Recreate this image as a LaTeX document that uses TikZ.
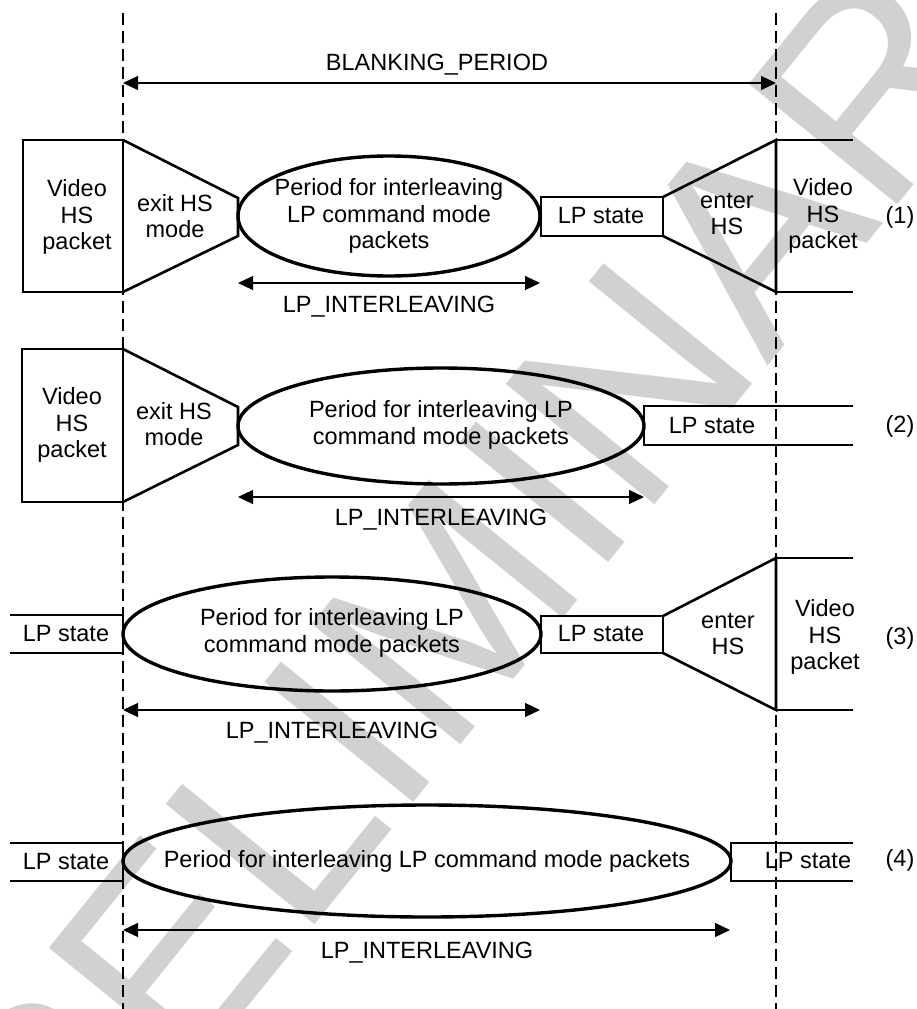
\documentclass[tikz,border=0pt]{standalone}
\usepackage{fontspec}
\setmainfont{Liberation Sans}
\usetikzlibrary{arrows.meta,shapes.geometric}
\begin{document}
\begin{tikzpicture}[x=1pt,y=-1pt,
  lbl/.style={font=\fontsize{23.5}{26.5}\selectfont, align=center, inner sep=0pt},
  boxline/.style={line width=2.6pt, line join=miter},
  period/.style={ellipse, draw, line width=3.4pt, inner sep=0pt},
  dimarrow/.style={line width=1.2pt, {Triangle[length=15pt,width=14pt]}-{Triangle[length=15pt,width=14pt]}},
  guide/.style={line width=2pt, dash pattern=on 11.5pt off 6.5pt},
  wmark/.style={text=black!18, font=\fontsize{278}{278}\selectfont, inner sep=0pt}
]
\useasboundingbox (0,0) rectangle (917,1009);
% watermark
\begin{scope}
\clip (0,0) rectangle (917,1009);
\node[wmark, rotate=51] (wm) at (458,596) {PRELIMINARY};
\end{scope}

% guide lines
\coordinate (gLt) at (123,13); \coordinate (gLb) at (123,1009);
\coordinate (gRt) at (776,13); \coordinate (gRb) at (776,1009);
\draw[guide] (gLt) -- (gLb);
\draw[guide] (gRt) -- (gRb);

% blanking period
\coordinate (bpL) at (123,83); \coordinate (bpR) at (776,83);
\draw[dimarrow] (bpL) -- (bpR);
\node[lbl] (bp) at (437,65) {BLANKING\_PERIOD};

% ---------------- row 1
\draw[boxline] (23,140) rectangle (123,292);
\node[lbl] (v1) at (77,217) {Video\\HS\\packet};
\draw[boxline] (123,140) -- (238,198) -- (238,236) -- (123,292);
\node[lbl] (x1) at (175,216) {exit HS\\mode};
\node[period, minimum width=302pt, minimum height=120pt] (e1) at (389,216) {};
\node[lbl] (t1) at (e1.center) {Period for interleaving\\LP command mode\\packets};
\draw[boxline] (541,197) rectangle (663,236);
\node[lbl] (s1) at (601,216) {LP state};
\draw[boxline] (663,197) -- (776,140) -- (776,292) -- (663,236);
\draw[boxline] (776,140) -- (853,140) (776,292) -- (853,292);
\node[lbl] (h1) at (727,214) {enter\\HS};
\node[lbl] (vr1) at (823,216) {Video\\HS\\packet};
\node[lbl] (n1) at (900,217) {(1)};
\coordinate (a1L) at (238,283); \coordinate (a1R) at (540,283);
\draw[dimarrow] (a1L) -- (a1R);
\node[lbl] (l1) at (389,307) {LP\_INTERLEAVING};

% ---------------- row 2
\draw[boxline] (22,349) rectangle (123,502);
\node[lbl] (v2) at (72,425) {Video\\HS\\packet};
\draw[boxline] (123,349) -- (238,407) -- (238,445) -- (123,502);
\node[lbl] (x2) at (174,424) {exit HS\\mode};
\node[period, minimum width=406pt, minimum height=116pt] (e2) at (441,426) {};
\node[lbl] (t2) at (441,425) {Period for interleaving LP\\command mode packets};
\draw[boxline] (853,406) -- (644,406) -- (644,445) -- (853,445);
\node[lbl] (s2) at (712,426) {LP state};
\node[lbl] (n2) at (900,426) {(2)};
\coordinate (a2L) at (238,497); \coordinate (a2R) at (644,497);
\draw[dimarrow] (a2L) -- (a2R);
\node[lbl] (l2) at (441,520) {LP\_INTERLEAVING};

% ---------------- row 3
\draw[boxline] (10,615) -- (123,615) -- (123,653) -- (10,653);
\node[lbl] (s3a) at (66,634) {LP state};
\node[period, minimum width=418pt, minimum height=114pt] (e3) at (332,634) {};
\node[lbl] (t3) at (332,633) {Period for interleaving LP\\command mode packets};
\draw[boxline] (541,616) rectangle (663,653);
\node[lbl] (s3b) at (601,634) {LP state};
\draw[boxline] (663,616) -- (776,558) -- (776,710) -- (663,653);
\draw[boxline] (776,558) -- (853,558) (776,710) -- (853,710);
\node[lbl] (h3) at (728,634) {enter\\HS};
\node[lbl] (vr3) at (825,637) {Video\\HS\\packet};
\node[lbl] (n3) at (900,638) {(3)};
\coordinate (a3L) at (123,710); \coordinate (a3R) at (540,710);
\draw[dimarrow] (a3L) -- (a3R);
\node[lbl] (l3) at (332,733) {LP\_INTERLEAVING};

% ---------------- row 4
\draw[boxline] (10,843) -- (123,843) -- (123,881) -- (10,881);
\node[lbl] (s4a) at (66,862) {LP state};
\node[period, minimum width=608pt, minimum height=112pt] (e4) at (427,861) {};
\node[lbl] (t4) at (e4.center) {Period for interleaving LP command mode packets};
\draw[boxline] (853,843) -- (731,843) -- (731,881) -- (853,881);
\node[lbl] (s4b) at (808,861) {LP state};
\node[lbl] (n4) at (900,860) {(4)};
\coordinate (a4L) at (123,930); \coordinate (a4R) at (730,930);
\draw[dimarrow] (a4L) -- (a4R);
\node[lbl] (l4) at (427,953) {LP\_INTERLEAVING};
\end{tikzpicture}
\end{document}
